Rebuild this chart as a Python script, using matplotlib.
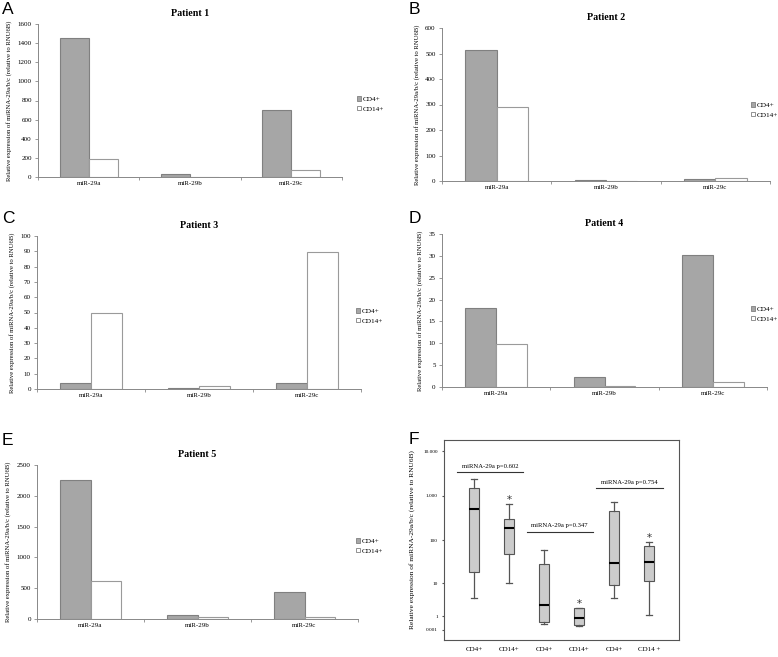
import numpy as np
import matplotlib
matplotlib.use("Agg")
import matplotlib.pyplot as plt
from matplotlib.patches import Patch

plt.rcParams['font.family'] = 'Liberation Serif'

W, H = 778, 657

mirnas = ['miR-29a', 'miR-29b', 'miR-29c']
series_names = ['CD4+', 'CD14+']
ylab = 'Relative expression of miRNA-29a/b/c (relative to RNU6B)'

# values, per patient: (CD4+, CD14+)
p1_cd4 = [1450, 30, 700]
p1_cd14 = [185, 5, 70]
p2_cd4 = [515, 2, 8]
p2_cd14 = [290, 1, 10]
p3_cd4 = [4, 0.5, 4]
p3_cd14 = [50, 2, 89.5]
p4_cd4 = [18, 2.4, 30.2]
p4_cd14 = [9.8, 0.2, 1.1]
p5_cd4 = [2250, 60, 440]
p5_cd14 = [620, 25, 25]

# box plot stats for panel F (med, q1, q3, whislo, whishi, outliers)
box_labels = ['CD4+', 'CD14+', 'CD4+', 'CD14+', 'CD4+', 'CD14 +']
box_med = [520, 193, 2.55, 0.82, 31, 32]
box_q1 = [18.5, 50, 0.51, 0.27, 9.0, 11.3]
box_q3 = [1480, 300, 28.5, 2.16, 460, 73]
box_lo = [4.1, 10, 0.34, 0.23, 4.2, 1.16]
box_hi = [2350, 640, 62, 2.16, 720, 92]
box_out = [[], [960], [], [3.5], [], [132]]
sig_text = ['miRNA-29a p=0.602', 'miRNA-29a p=0.347', 'miRNA-29a p=0.754']
sig_y = [3400, 158, 1510]

fig = plt.figure(figsize=(W / 100, H / 100), dpi=100)


def px_axes(l, t, r, b):
    return fig.add_axes([l / W, 1 - b / H, (r - l) / W, (b - t) / H])


def bar_panel(box, cd4, cd14, title, ymax, step, letter, letter_xy, leg_xy):
    ax = px_axes(*box)
    x = np.arange(len(mirnas))
    w = 0.2857
    ax.bar(x - w / 2, cd4, w, color='#a6a6a6', edgecolor='#808080', linewidth=0.8)
    ax.bar(x + w / 2, cd14, w, color='white', edgecolor='#9a9a9a', linewidth=0.8)
    ax.set_xlim(-0.5, len(mirnas) - 0.5)
    ax.set_ylim(0, ymax)
    ax.set_yticks(np.arange(0, ymax + step / 2, step))
    ax.set_xticks(x)
    ax.set_xticklabels(mirnas)
    ax.set_xticks(np.arange(-0.5, len(mirnas)), minor=True)
    ax.tick_params(axis='x', which='major', length=0, labelsize=5, pad=3)
    ax.tick_params(axis='x', which='minor', length=2.5, color='#888888', width=0.6)
    ax.tick_params(axis='y', length=2.5, color='#888888', width=0.6, labelsize=5, pad=2)
    for s in ['top', 'right']:
        ax.spines[s].set_visible(False)
    for s in ['left', 'bottom']:
        ax.spines[s].set_color('#888888')
        ax.spines[s].set_linewidth(0.7)
    ax.set_title(title, fontsize=7.2, fontweight='bold', pad=6)
    ax.set_ylabel(ylab, fontsize=4.8, labelpad=4)
    handles = [Patch(facecolor='#a6a6a6', edgecolor='#808080', linewidth=0.6),
               Patch(facecolor='white', edgecolor='#808080', linewidth=0.6)]
    fig.legend(handles, series_names, loc='center left',
               bbox_to_anchor=(leg_xy[0] / W, 1 - leg_xy[1] / H),
               frameon=False, fontsize=5.2, handlelength=0.55, handleheight=0.55,
               handletextpad=0.3, labelspacing=0.5, borderpad=0)
    fig.text(letter_xy[0] / W, 1 - letter_xy[1] / H, letter, fontsize=12.5,
             family='Liberation Sans', va='top', ha='left')
    return ax


bar_panel((38, 24, 342, 177), p1_cd4, p1_cd14, 'Patient 1', 1600, 200, 'A', (2, 2), (353, 104))
bar_panel((442, 28, 770, 181), p2_cd4, p2_cd14, 'Patient 2', 600, 100, 'B', (409, 2), (747, 110))
bar_panel((37, 236, 361, 389), p3_cd4, p3_cd14, 'Patient 3', 100, 10, 'C', (2, 211), (352, 316))
bar_panel((442, 234, 767, 387), p4_cd4, p4_cd14, 'Patient 4', 35, 5, 'D', (409, 211), (747, 314))
bar_panel((37, 465, 358, 619), p5_cd4, p5_cd14, 'Patient 5', 2500, 500, 'E', (2, 433), (352, 546))

# panel F: box plots on a log(x+1) axis
axf = px_axes(444, 440, 679, 640)
axf.set_yscale('function', functions=(lambda v: np.log10(np.clip(v + 1, 1e-6, None)),
                                      lambda y: 10 ** y - 1))
stats = []
for i in range(len(box_labels)):
    stats.append(dict(med=box_med[i], q1=box_q1[i], q3=box_q3[i],
                      whislo=box_lo[i], whishi=box_hi[i], fliers=box_out[i]))
pos = np.arange(1, len(box_labels) + 1)
axf.bxp(stats, positions=pos, widths=0.3, patch_artist=True, showfliers=True,
        boxprops=dict(facecolor='#cccccc', edgecolor='#555555', linewidth=0.8),
        medianprops=dict(color='black', linewidth=1.5),
        whiskerprops=dict(color='#555555', linewidth=0.9),
        capprops=dict(color='#555555', linewidth=0.9), capwidths=0.15,
        flierprops=dict(marker='$*$', markersize=3.5, markeredgewidth=0,
                        markerfacecolor='#333333', color='#333333'))
axf.set_xlim(0.14, 6.86)
axf.set_ylim(-0.406, 17800)
axf.set_yticks([0.001, 1, 10, 100, 1000, 10000])
axf.set_yticklabels(['0.001', '1', '10', '100', '1.000', '10.000'])
axf.minorticks_off()
axf.set_xticks(pos)
axf.set_xticklabels(box_labels)
axf.tick_params(axis='x', length=0, labelsize=5, pad=5)
axf.tick_params(axis='y', length=1.5, labelsize=3.8, pad=3, color='#555555')
for s in axf.spines.values():
    s.set_color('#555555')
    s.set_linewidth(0.8)
axf.set_ylabel(ylab, fontsize=5.3, labelpad=6)
for k in range(3):
    x0 = pos[2 * k] - 0.5
    x1 = pos[2 * k + 1] + 0.4
    axf.plot([x0, x1], [sig_y[k], sig_y[k]], color='#333333', linewidth=0.8)
    axf.text((x0 + x1) / 2, sig_y[k] * 1.18, sig_text[k], ha='center', va='bottom', fontsize=4.8)
fig.text(409 / W, 1 - 432 / H, 'F', fontsize=12.5, family='Liberation Sans', va='top', ha='left')

fig.savefig('out.png', dpi=100)
